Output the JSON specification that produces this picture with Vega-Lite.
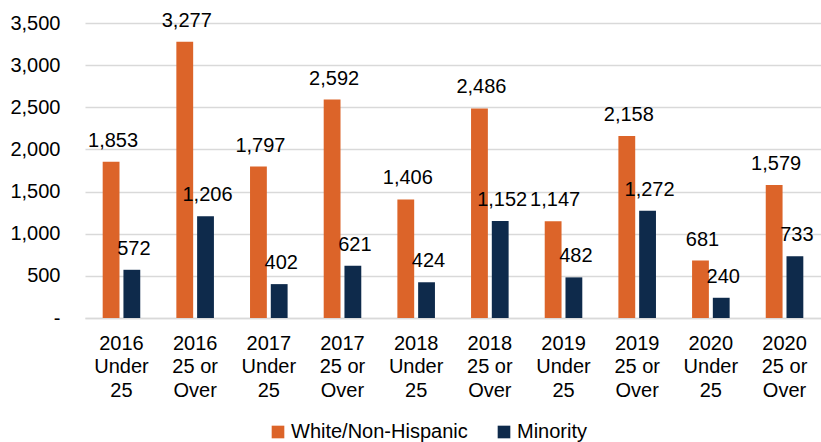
{
  "$schema": "https://vega.github.io/schema/vega-lite/v6.json",
  "width": 736,
  "height": 295,
  "autosize": {"type": "none"},
  "padding": {"left": 85, "top": 23, "right": 0, "bottom": 124},
  "background": "white",
  "config": {
    "font": "Liberation Sans",
    "view": {"stroke": null},
    "axis": {"labelFont": "Liberation Sans", "labelColor": "#000000"}
  },
  "data": {
    "values": [
      {"cat": "2016|Under|25", "series": "White/Non-Hispanic", "value": 1853},
      {"cat": "2016|Under|25", "series": "Minority", "value": 572},
      {"cat": "2016|25 or|Over", "series": "White/Non-Hispanic", "value": 3277},
      {"cat": "2016|25 or|Over", "series": "Minority", "value": 1206},
      {"cat": "2017|Under|25", "series": "White/Non-Hispanic", "value": 1797},
      {"cat": "2017|Under|25", "series": "Minority", "value": 402},
      {"cat": "2017|25 or|Over", "series": "White/Non-Hispanic", "value": 2592},
      {"cat": "2017|25 or|Over", "series": "Minority", "value": 621},
      {"cat": "2018|Under|25", "series": "White/Non-Hispanic", "value": 1406},
      {"cat": "2018|Under|25", "series": "Minority", "value": 424},
      {"cat": "2018|25 or|Over", "series": "White/Non-Hispanic", "value": 2486},
      {"cat": "2018|25 or|Over", "series": "Minority", "value": 1152},
      {"cat": "2019|Under|25", "series": "White/Non-Hispanic", "value": 1147},
      {"cat": "2019|Under|25", "series": "Minority", "value": 482},
      {"cat": "2019|25 or|Over", "series": "White/Non-Hispanic", "value": 2158},
      {"cat": "2019|25 or|Over", "series": "Minority", "value": 1272},
      {"cat": "2020|Under|25", "series": "White/Non-Hispanic", "value": 681},
      {"cat": "2020|Under|25", "series": "Minority", "value": 240},
      {"cat": "2020|25 or|Over", "series": "White/Non-Hispanic", "value": 1579},
      {"cat": "2020|25 or|Over", "series": "Minority", "value": 733}
    ]
  },
  "encoding": {
    "x": {
      "field": "cat",
      "type": "nominal",
      "sort": null,
      "scale": {"paddingInner": 0.49, "paddingOuter": 0.24},
      "axis": {
        "title": null,
        "labelAngle": 0,
        "labelExpr": "split(datum.value, '|')",
        "labelFontSize": 20,
        "labelLineHeight": 23.5,
        "labelPadding": 15,
        "ticks": false,
        "domain": true,
        "domainColor": "#d9d9d9",
        "domainWidth": 1.5,
        "labelBaseline": "top"
      }
    },
    "xOffset": {
      "field": "series",
      "type": "nominal",
      "sort": ["White/Non-Hispanic", "Minority"],
      "scale": {"paddingInner": 0.19, "paddingOuter": 0}
    },
    "y": {
      "field": "value",
      "type": "quantitative",
      "scale": {"domain": [0, 3500], "nice": false},
      "axis": {
        "title": null,
        "values": [0, 500, 1000, 1500, 2000, 2500, 3000, 3500],
        "labelExpr": "datum.value == 0 ? '-\u00a0\u00a0' : format(datum.value, ',')",
        "labelFontSize": 20,
        "labelPadding": 25,
        "ticks": false,
        "domain": false,
        "gridColor": "#d9d9d9",
        "gridWidth": 1.5
      }
    }
  },
  "layer": [
    {
      "mark": {"type": "bar"},
      "encoding": {
        "color": {
          "field": "series",
          "type": "nominal",
          "sort": ["White/Non-Hispanic", "Minority"],
          "scale": {"domain": ["White/Non-Hispanic", "Minority"], "range": ["#dc6429", "#0e2a4b"]},
          "legend": {
            "title": null,
            "orient": "none",
            "direction": "horizontal",
            "legendX": 183,
            "legendY": 399,
            "symbolType": "square",
            "symbolSize": 160,
            "symbolStrokeWidth": 0,
            "labelFontSize": 20,
            "labelLimit": 0,
            "labelColor": "#000000",
            "labelOffset": 3,
            "columnPadding": 26
          }
        }
      }
    },
    {
      "mark": {"type": "text", "baseline": "alphabetic", "dy": -15, "fontSize": 20, "color": "#000000", "dx": 2},
      "encoding": {
        "text": {"field": "value", "type": "quantitative", "format": ","}
      }
    }
  ]
}
